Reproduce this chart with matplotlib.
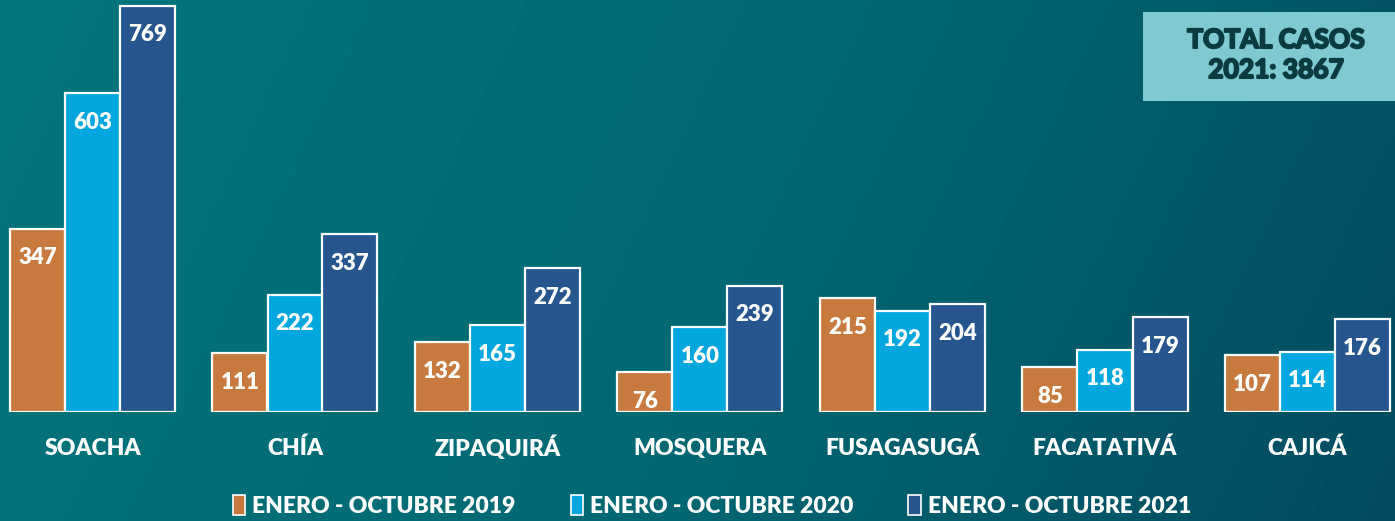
import numpy as np
import matplotlib.pyplot as plt
import matplotlib.patheffects as pe
from matplotlib.colors import LinearSegmentedColormap
from matplotlib.patches import Rectangle

municipios = ['SOACHA', 'CHÍA', 'ZIPAQUIRÁ', 'MOSQUERA', 'FUSAGASUGÁ', 'FACATATIVÁ', 'CAJICÁ']
casos_2019 = [347, 111, 132, 76, 215, 85, 107]
casos_2020 = [603, 222, 165, 160, 192, 118, 114]
casos_2021 = [769, 337, 272, 239, 204, 179, 176]
series = ['ENERO - OCTUBRE 2019', 'ENERO - OCTUBRE 2020', 'ENERO - OCTUBRE 2021']
colores = ['#C87A3E', '#00A6DE', '#27568F']
total_2021 = 3867

plt.rcParams['font.family'] = ['Lato', 'DejaVu Sans']

fig = plt.figure(figsize=(13.95, 5.21), dpi=100)

# background gradient
bg = fig.add_axes([0, 0, 1, 1])
cmap = LinearSegmentedColormap.from_list('bg', ['#00757C', '#006A74', '#004B60'])
gx = np.linspace(0, 1, 300)
gy = np.linspace(0, 1, 100)
X, Y = np.meshgrid(gx, gy)
bg.imshow(0.85 * X + 0.15 * Y, cmap=cmap, aspect='auto', extent=[0, 1, 0, 1], origin='upper')
bg.axis('off')

ax = fig.add_axes([0, (521 - 412) / 521, 1, 412 / 521])
ax.set_facecolor('none')
x = np.arange(len(municipios))
w = 55 / 202.5
datos = [casos_2019, casos_2020, casos_2021]
for i, (vals, c) in enumerate(zip(datos, colores)):
    bars = ax.bar(x + (i - 1) * w, vals, w, color=c, edgecolor='white', linewidth=1.6, label=series[i])
    for b, v in zip(bars, vals):
        ax.annotate(str(v), (b.get_x() + b.get_width() / 2, v), xytext=(0, -21),
                    textcoords='offset points', ha='center', va='center',
                    color='white', fontsize=16, fontweight='heavy')

ax.set_xlim(-92.5 / 202.5, (1395 - 92.5) / 202.5)
ax.set_ylim(0, 780)
ax.axis('off')

for xi, m in zip(x, municipios):
    ax.annotate(m, (xi, 0), xytext=(0, -26), textcoords='offset points', ha='center',
                va='center', color='white', fontsize=16.5, fontweight='heavy')

# legend
handles = [Rectangle((0, 0), 1, 1, facecolor=c, edgecolor='white', linewidth=1.2) for c in colores]
fig.legend(handles, series, loc='center', bbox_to_anchor=(712 / 1395, 1 - 506 / 521), ncol=3,
           frameon=False, prop={'weight': 'heavy', 'size': 16.5},
           labelcolor='white', handlelength=0.55, handleheight=1.0, handletextpad=0.3,
           columnspacing=2.4)

# total box
fig.patches.append(Rectangle((1143 / 1395, 1 - 101 / 521), (1395 - 1143) / 1395, 89 / 521,
                             transform=fig.transFigure, facecolor='#7ECAD0', edgecolor='none'))
fig.text(1276 / 1395, 1 - 55 / 521, 'TOTAL CASOS\n2021: %d' % total_2021, ha='center', va='center',
         color='#0B3A3F', fontsize=19, fontweight='bold', linespacing=1.3,
         path_effects=[pe.withStroke(linewidth=1.5, foreground='#0B3A3F')])

fig.savefig('out.png', dpi=100)
